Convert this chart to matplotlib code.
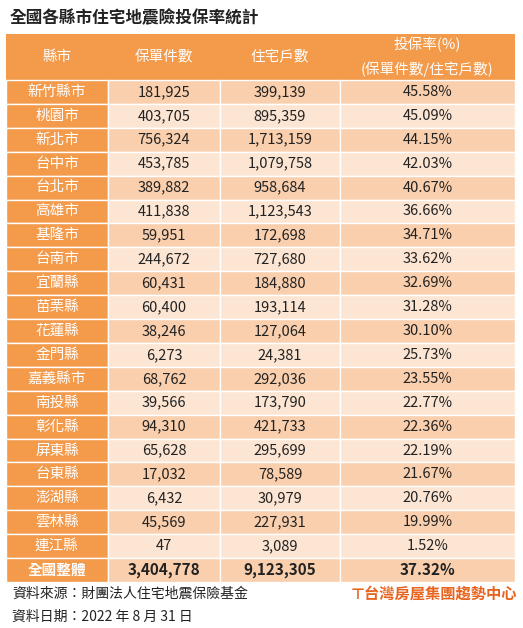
import matplotlib
matplotlib.use("Agg")
import matplotlib.pyplot as plt
from matplotlib.patches import Rectangle

plt.rcParams['font.family'] = ['Noto Sans CJK TC', 'DejaVu Sans']

title = "全國各縣市住宅地震險投保率統計"
headers = ["縣市", "保單件數", "住宅戶數", "投保率(%)\n(保單件數/住宅戶數)"]
counties = ["新竹縣市","桃園市","新北市","台中市","台北市","高雄市","基隆市","台南市","宜蘭縣","苗栗縣",
            "花蓮縣","金門縣","嘉義縣市","南投縣","彰化縣","屏東縣","台東縣","澎湖縣","雲林縣","連江縣","全國整體"]
policies = ["181,925","403,705","756,324","453,785","389,882","411,838","59,951","244,672","60,431","60,400",
            "38,246","6,273","68,762","39,566","94,310","65,628","17,032","6,432","45,569","47","3,404,778"]
households = ["399,139","895,359","1,713,159","1,079,758","958,684","1,123,543","172,698","727,680","184,880","193,114",
              "127,064","24,381","292,036","173,790","421,733","295,699","78,589","30,979","227,931","3,089","9,123,305"]
rates = ["45.58%","45.09%","44.15%","42.03%","40.67%","36.66%","34.71%","33.62%","32.69%","31.28%",
         "30.10%","25.73%","23.55%","22.77%","22.36%","22.19%","21.67%","20.76%","19.99%","1.52%","37.32%"]

W, H = 523, 628
fig = plt.figure(figsize=(W/100, H/100), dpi=100)
ax = fig.add_axes([0, 0, 1, 1])
ax.set_xlim(0, W); ax.set_ylim(H, 0); ax.axis('off')

orange = "#F39A4B"
dark = "#F9CFAD"
light = "#FCE5D3"
cols = [6, 108, 220, 340, 515]
top, hdr_bot = 34, 80
n = len(counties)
rh = (582 - hdr_bot) / n

ax.text(10, 18, title, fontsize=12, fontweight='bold', va='center', ha='left', color='#222')
ax.add_patch(Rectangle((cols[0], top), cols[-1]-cols[0], hdr_bot-top, color=orange, lw=0))
for j, h in enumerate(headers):
    cx = (cols[j]+cols[j+1])/2
    ax.text(cx, (top+hdr_bot)/2, h, color='white', fontsize=10.5, ha='center', va='center', linespacing=1.7)

for i in range(n):
    y = hdr_bot + i*rh
    bg = dark if i % 2 == 0 else light
    last = i == n-1
    ax.add_patch(Rectangle((cols[0], y), cols[1]-cols[0], rh, facecolor=orange, edgecolor='white', lw=1))
    ax.text((cols[0]+cols[1])/2, y+rh/2, counties[i], color='white', fontsize=10.5, ha='center', va='center',
            fontweight='bold' if last else 'medium')
    for j, vals in enumerate([policies, households, rates], start=1):
        ax.add_patch(Rectangle((cols[j], y), cols[j+1]-cols[j], rh, facecolor=bg, edgecolor='white', lw=1))
        ax.text((cols[j]+cols[j+1])/2, y+rh/2, vals[i], color='#222', fontsize=10.5 if not last else 11,
                ha='center', va='center', fontweight='bold' if last else 'normal')

ax.text(12, 594, "資料來源：財團法人住宅地震保險基金", fontsize=10, va='center', color='#222')
ax.text(12, 617, "資料日期：2022 年 8 月 31 日", fontsize=10, va='center', color='#222')
ax.text(517, 594, "⊤台灣房屋集團趨勢中心", fontsize=11, va='center', ha='right', color='#E8641E', fontweight='heavy')

fig.savefig("out.png", dpi=100)
